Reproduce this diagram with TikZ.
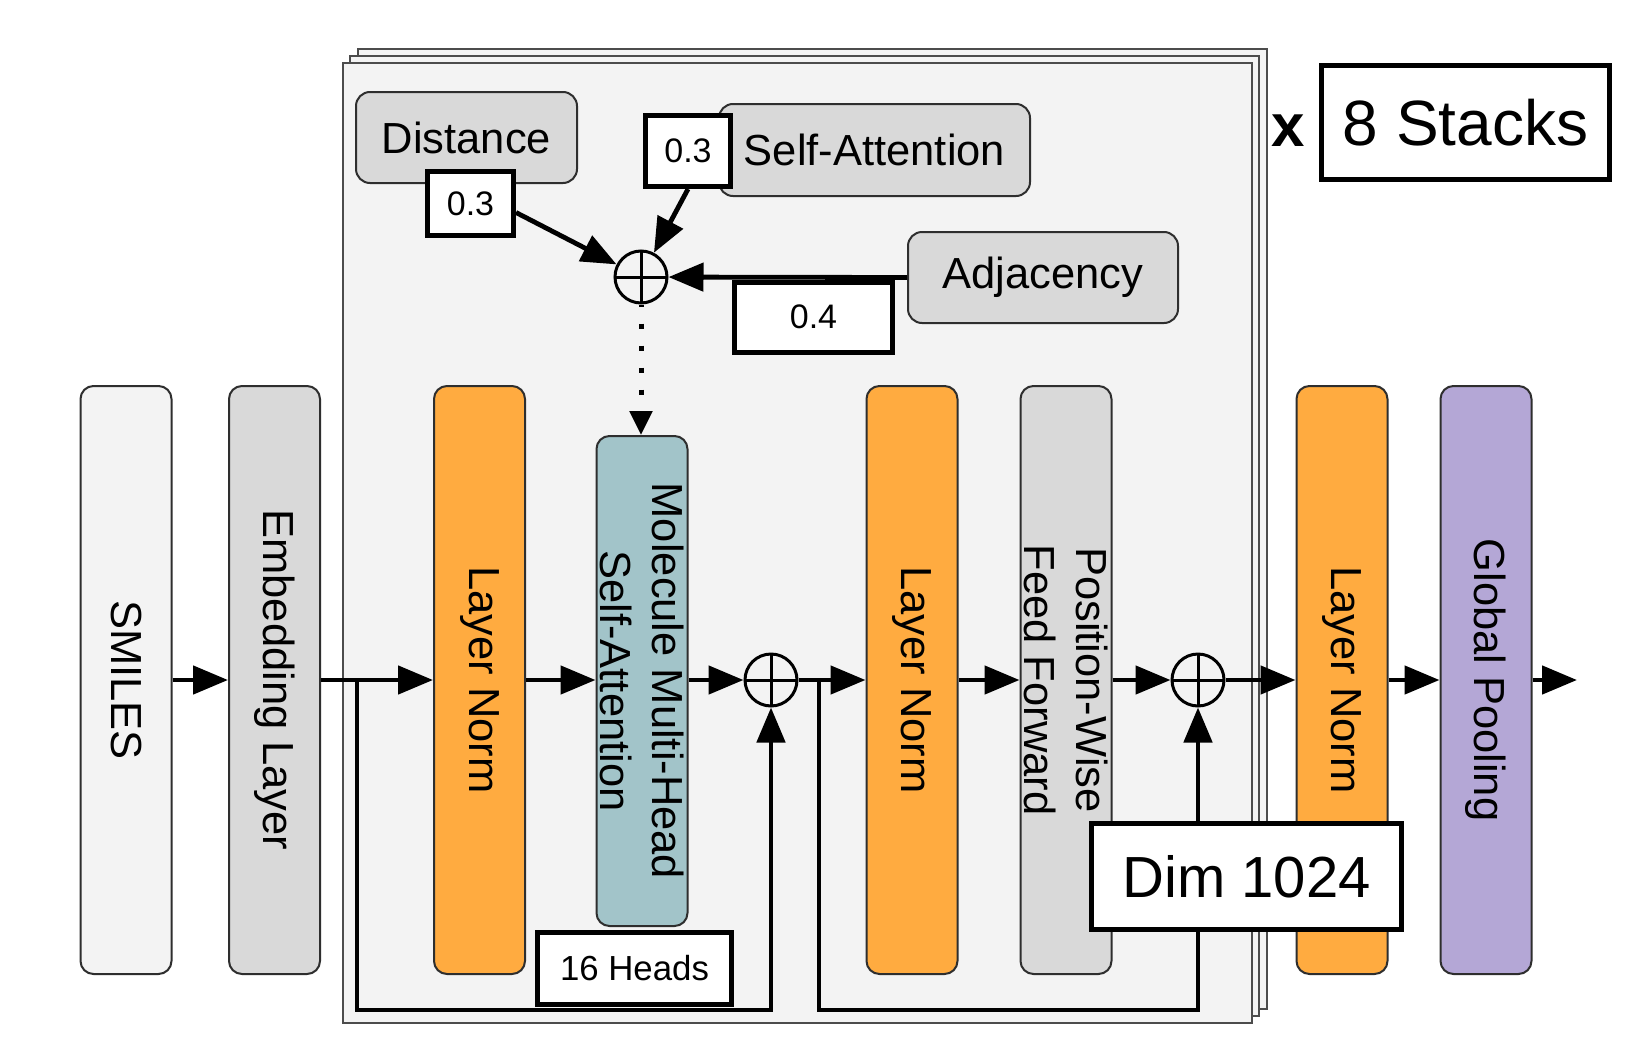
\documentclass[tikz,border=0pt]{standalone}
\usepackage{fontspec}
\setmainfont{Liberation Sans}
\usetikzlibrary{arrows.meta,calc}
\definecolor{lgray}{HTML}{F3F3F3}
\definecolor{mgray}{HTML}{D9D9D9}
\definecolor{lnorange}{HTML}{FFAB40}
\definecolor{tealbox}{HTML}{A2C4C9}
\definecolor{purpbox}{HTML}{B4A7D6}
\definecolor{edgecol}{HTML}{2E2E2E}
\begin{document}
\begin{tikzpicture}[x=1pt,y=-1pt,
  col/.style={draw=edgecol, line width=2pt, rounded corners=13pt, minimum width=91pt, minimum height=588pt, inner sep=0pt},
  topbox/.style={draw=edgecol, line width=2pt, rounded corners=14pt, fill=mgray, inner sep=0pt, font=\fontsize{43.5}{50}\selectfont},
  wbox/.style={draw=black, line width=5pt, fill=white, inner sep=0pt},
  vtxt/.style={rotate=-90, font=\fontsize{43.5}{52}\selectfont, align=center, inner sep=0pt},
  flow/.style={line width=4.8pt, -{Triangle[length=35pt,width=28pt]}},
  plusnode/.style={circle, draw=black, line width=3pt, minimum size=52pt, inner sep=0pt,
    path picture={\draw[line width=3pt] (path picture bounding box.north) -- (path picture bounding box.south)
      (path picture bounding box.west) -- (path picture bounding box.east);}},
  stackbox/.style={draw=black!70, line width=2pt, fill=lgray}
]
\fill[white] (0,0) rectangle (1642,1063);
\useasboundingbox (0,0) rectangle (1642,1063);

% stacked frames
\draw[stackbox] (358,49) rectangle (1267,1009);
\draw[stackbox] (350,56) rectangle (1259,1016);
\draw[stackbox] (343,63) rectangle (1252,1023);

% columns
\node[col, fill=lgray] (smiles) at (126,680) {};
\node[vtxt] (tsmiles) at (126,680) {SMILES};
\node[col, fill=mgray] (emb) at (274.5,680) {};
\node[vtxt] (temb) at (274.5,680) {Embedding Layer};
\node[col, fill=lnorange] (ln1) at (479.5,680) {};
\node[vtxt] (tln1) at (479.5,680) {Layer Norm};
\node[col, fill=tealbox, minimum height=490pt] (mhsa) at (642,681) {};
\node[vtxt] (tmhsa) at (642,681) {Molecule Multi-Head\\Self-Attention};
\node[col, fill=lnorange] (ln2) at (912,680) {};
\node[vtxt] (tln2) at (912,680) {Layer Norm};
\node[col, fill=mgray] (pwff) at (1066,680) {};
\node[vtxt] (tpwff) at (1066,680) {Position-Wise\\Feed Forward};
\node[col, fill=lnorange] (ln3) at (1342,680) {};
\node[vtxt] (tln3) at (1342,680) {Layer Norm};
\node[col, fill=purpbox] (gp) at (1486,680) {};
\node[vtxt] (tgp) at (1486,680) {Global Pooling};

\node[plusnode] (p1) at (771,680) {};
\node[plusnode] (p2) at (1198,680) {};

% skip connections
\coordinate (b1) at (357,680);
\coordinate (s1) at (357,1010);
\coordinate (b2) at (819,680);
\coordinate (s2) at (819,1010);
\draw[flow] (b1) -- (s1) -| (p1.south);
\draw[flow] (b2) -- (s2) -| (p2.south);

% main flow
\draw[flow] (smiles.east) -- (emb.west);
\draw[flow] (emb.east) -- (ln1.west);
\draw[flow] (ln1.east) -- (mhsa.west |- ln1.east);
\draw[flow] (mhsa.east |- p1.west) -- (p1.west);
\draw[flow] (p1.east) -- (ln2.west);
\draw[flow] (ln2.east) -- (pwff.west);
\draw[flow] (pwff.east) -- (p2.west);
\draw[flow] (p2.east) -- (ln3.west);
\draw[flow] (ln3.east) -- (gp.west);
\coordinate (out) at (1577,680);
\draw[flow] (gp.east) -- (out);

% top weighting
\node[topbox, minimum width=221pt, minimum height=91pt] (dist) at (466.5,137.5) {Distance};
\node[topbox, minimum width=311pt, minimum height=92pt] (sa) at (874.5,150) {Self-Attention};
\node[topbox, minimum width=270pt, minimum height=91pt] (adj) at (1043,277.5) {Adjacency};
\node[plusnode] (pt) at (641,277) {};

\node[wbox, minimum width=86pt, minimum height=64pt, font=\fontsize{34}{40}\selectfont] (wa) at (470.5,203.5) {0.3};
\node[wbox, minimum width=85pt, minimum height=71pt, font=\fontsize{34}{40}\selectfont] (wb) at (688,151) {0.3};

\draw[flow] ($(wa.east)+(0,9)$) -- (pt);
\draw[flow] (wb.south) -- (pt);
\draw[flow] (adj.west) -- (pt);
\node[wbox, minimum width=158pt, minimum height=70pt, font=\fontsize{34}{40}\selectfont] (w4) at (813.5,317) {0.4};

\draw[line width=5pt, dash pattern=on 5pt off 17pt, dash phase=3pt, -{Triangle[length=24pt,width=22pt]}] (pt.south) -- (pt.south |- mhsa.north);

% labels
\node[wbox, minimum width=194pt, minimum height=72pt, font=\fontsize{34.8}{40}\selectfont] (heads) at (634.5,968.5) {16 Heads};
\node[wbox, minimum width=310pt, minimum height=106pt, font=\fontsize{58}{64}\selectfont] (dim) at (1246.5,876.5) {Dim 1024};
\node[inner sep=0pt, font=\fontsize{60}{66}\selectfont\bfseries] (times) at (1288,131) {x};
\node[wbox, minimum width=288pt, minimum height=114pt, font=\fontsize{64}{70}\selectfont] (stacks) at (1465.5,122.5) {8 Stacks};
\end{tikzpicture}
\end{document}
